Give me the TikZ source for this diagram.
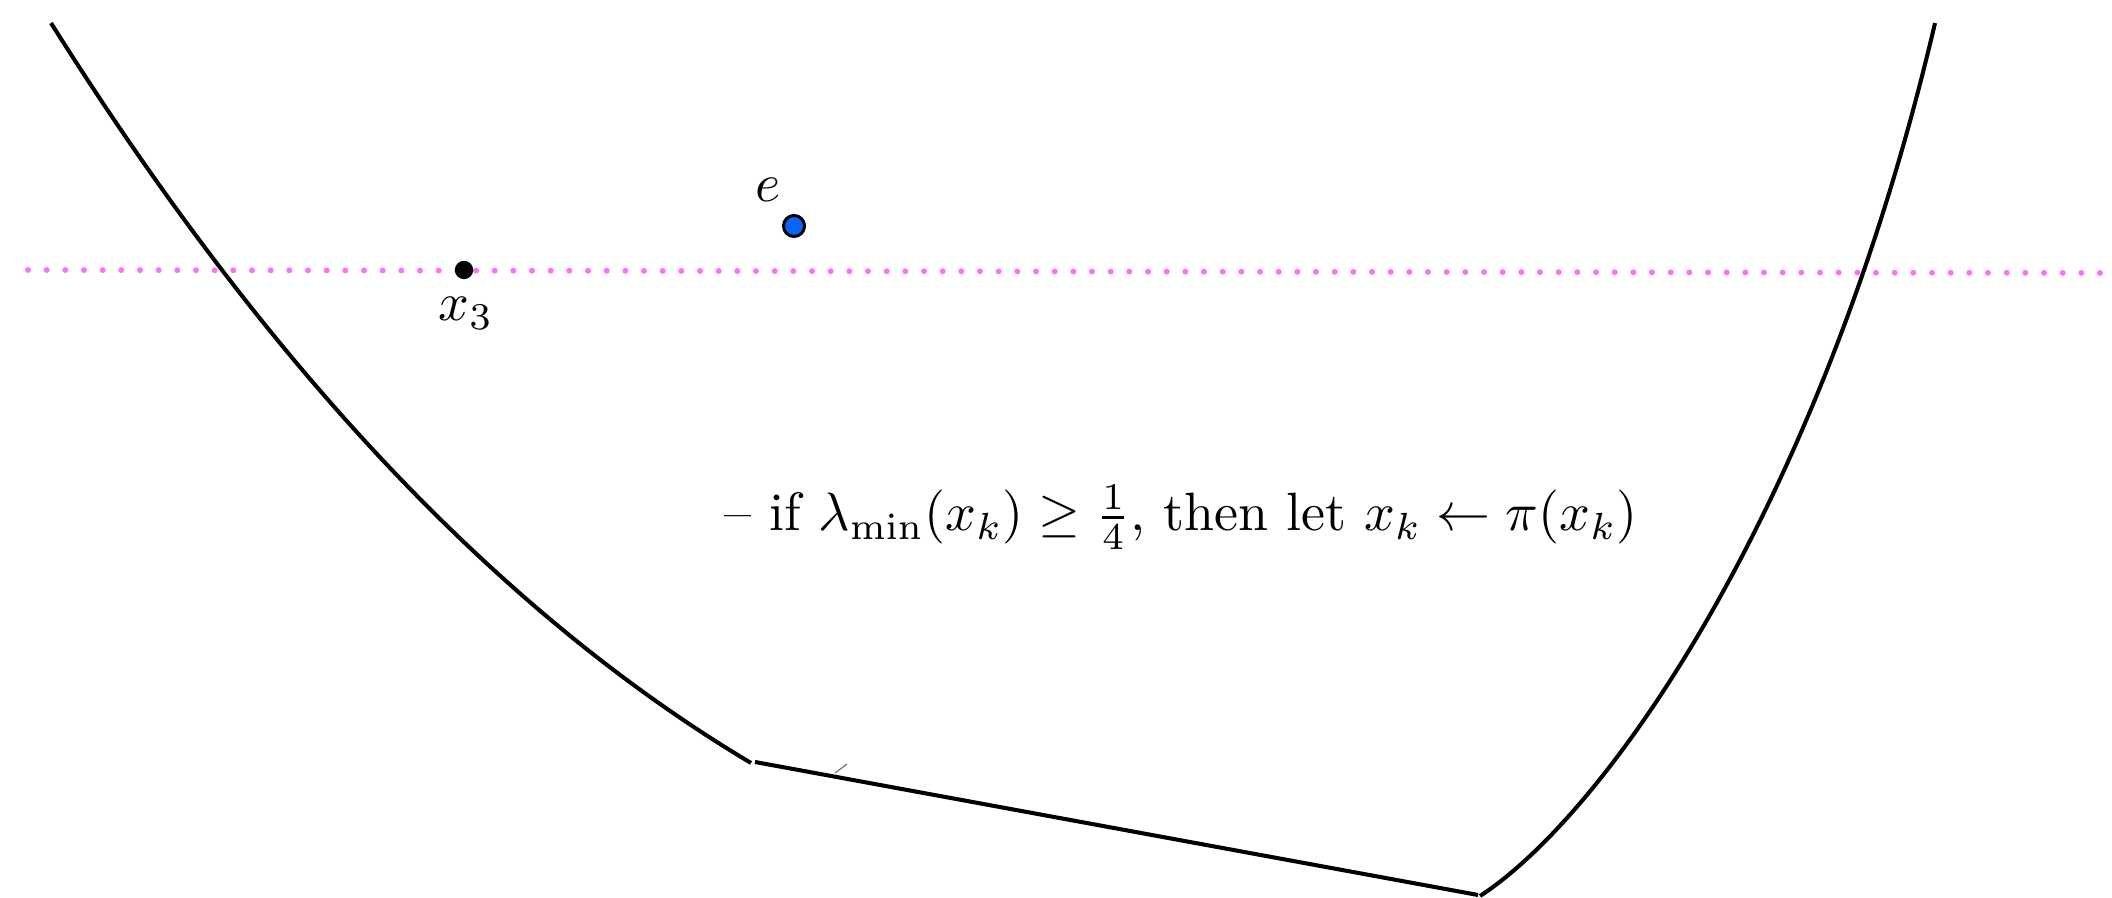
\documentclass[tikz,border=0pt]{standalone}
\usepackage{amsmath}
\definecolor{guidepink}{RGB}{255,112,250}
\definecolor{dotblue}{RGB}{10,100,250}
\begin{document}
\begin{tikzpicture}[x=0.18519pt,y=-0.18519pt,
  curve/.style={line width=0.75pt, black},
  guide/.style={line width=1.1pt, color=guidepink, dash pattern=on 0pt off 3.457pt, line cap=round},
  blackdot/.style={circle, fill=black, inner sep=0pt, minimum size=3.4pt},
  bluedot/.style={circle, fill=dotblue, draw=black, line width=0.55pt, inner sep=0pt, minimum size=3.9pt},
  lbl/.style={inner sep=0pt, anchor=base}]
\useasboundingbox (0,0) rectangle (2112,898);
% dotted guide line
\coordinate (gl) at (28,270);
\coordinate (gr) at (2112,273);
\draw[guide] (gl) -- (gr);
% left curve
\coordinate (la) at (51,23);
\coordinate (lb) at (751,763);
\draw[curve] (la) .. controls (268,368) and (501,614) .. (lb);
% bottom segment
\coordinate (sa) at (755,762);
\coordinate (sb) at (1478,895);
\draw[curve] (sa) -- (sb);
% right curve
\coordinate (ra) at (1480,896);
\coordinate (rb) at (1935,23);
\draw[curve] (ra) .. controls (1605.7,814.3) and (1821,510) .. (rb);
% faint tick
\coordinate (ta) at (835,773);
\coordinate (tb) at (847,764);
\draw[line width=0.25pt, gray] (ta) -- (tb);
% points
\node[blackdot] (x3) at (464,270) {};
\node[lbl] (x3lbl) at (466,321) {$x_3$};
\node[bluedot] (e) at (794,226) {};
\node[lbl] (elbl) at (768,202) {$e$};
% text
\node[lbl] (rule) at (1181,531) {-- if $\lambda_{\min}(x_k) \geq \frac{1}{4}$, then let $x_k \leftarrow \pi(x_k)$};
\end{tikzpicture}
\end{document}
